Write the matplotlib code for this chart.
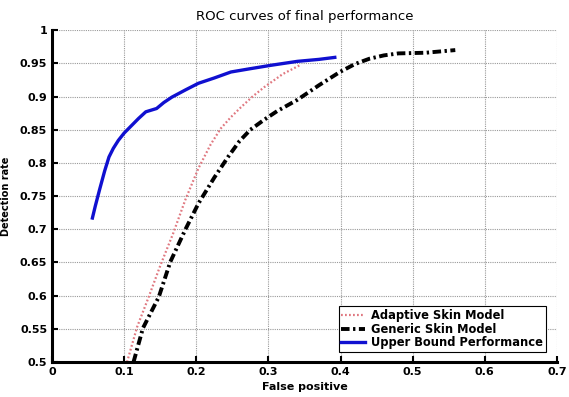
import matplotlib
matplotlib.use("Agg")
import matplotlib.pyplot as plt

upper_fp  = [0.056, 0.060, 0.066, 0.073, 0.079, 0.085, 0.092, 0.100, 0.110, 0.120, 0.130, 0.145, 0.155, 0.166, 0.185, 0.203, 0.225, 0.248, 0.275, 0.303, 0.340, 0.370, 0.392]
upper_det = [0.717, 0.735, 0.760, 0.788, 0.809, 0.822, 0.834, 0.845, 0.856, 0.867, 0.877, 0.882, 0.891, 0.899, 0.910, 0.920, 0.928, 0.937, 0.942, 0.947, 0.953, 0.956, 0.959]

adapt_fp  = [0.104, 0.118, 0.134, 0.150, 0.168, 0.185, 0.203, 0.220, 0.234, 0.248, 0.262, 0.278, 0.294, 0.320, 0.345]
adapt_det = [0.500, 0.553, 0.598, 0.645, 0.694, 0.745, 0.792, 0.828, 0.852, 0.869, 0.884, 0.900, 0.914, 0.934, 0.948]

gen_fp  = [0.113, 0.126, 0.148, 0.164, 0.185, 0.203, 0.225, 0.244, 0.260, 0.275, 0.294, 0.312, 0.340, 0.370, 0.399, 0.420, 0.440, 0.460, 0.480, 0.518, 0.559]
gen_det = [0.500, 0.551, 0.598, 0.651, 0.700, 0.739, 0.778, 0.809, 0.833, 0.850, 0.865, 0.878, 0.895, 0.917, 0.937, 0.949, 0.957, 0.962, 0.965, 0.966, 0.970]

xticks = [0, 0.1, 0.2, 0.3, 0.4, 0.5, 0.6, 0.7]
xtick_labels = ["0", "0.1", "0.2", "0.3", "0.4", "0.5", "0.6", "0.7"]
yticks = [0.5, 0.55, 0.6, 0.65, 0.7, 0.75, 0.8, 0.85, 0.9, 0.95, 1.0]
ytick_labels = ["0.5", "0.55", "0.6", "0.65", "0.7", "0.75", "0.8", "0.85", "0.9", "0.95", "1"]

fig = plt.figure(figsize=(5.69, 3.97), dpi=100)
ax = fig.add_axes([0.0914, 0.088, 0.8875, 0.836])

ax.plot(adapt_fp, adapt_det, color="#e07880", linestyle=(0, (0.8, 1.0)), linewidth=1.6,
        label="Adaptive Skin Model")
ax.plot(gen_fp, gen_det, color="black", linestyle=(0, (2.2, 0.9, 0.6, 0.9)), linewidth=2.8,
        label="Generic Skin Model")
ax.plot(upper_fp, upper_det, color="#1010d0", linestyle="-", linewidth=2.4,
        label="Upper Bound Performance")

ax.set_xlim(0, 0.7)
ax.set_ylim(0.5, 1.0)
ax.set_xticks(xticks)
ax.set_xticklabels(xtick_labels, fontsize=8, fontweight="bold")
ax.set_yticks(yticks)
ax.set_yticklabels(ytick_labels, fontsize=8, fontweight="bold")
ax.tick_params(direction="in", length=4, width=1.5)
ax.grid(True, linestyle=(0, (1, 1)), color="#999999", linewidth=0.8)

for s in ["top", "right"]:
    ax.spines[s].set_visible(False)
for s in ["left", "bottom"]:
    ax.spines[s].set_linewidth(2.2)

ax.set_title("ROC curves of final performance", fontsize=9.5, pad=7)
ax.set_xlabel("False positive", fontsize=8, fontweight="bold", labelpad=4)
ax.set_ylabel("Detection rate", fontsize=7, fontweight="bold", labelpad=6)

leg = ax.legend(loc="lower right", prop={"weight": "bold", "size": 8.3},
                fancybox=False, edgecolor="black", framealpha=1,
                borderpad=0.25, labelspacing=0.05, handlelength=2.0, handletextpad=0.6,
                bbox_to_anchor=(0.99, 0.012))
leg.get_frame().set_linewidth(0.8)

fig.savefig("out.png", dpi=100)
